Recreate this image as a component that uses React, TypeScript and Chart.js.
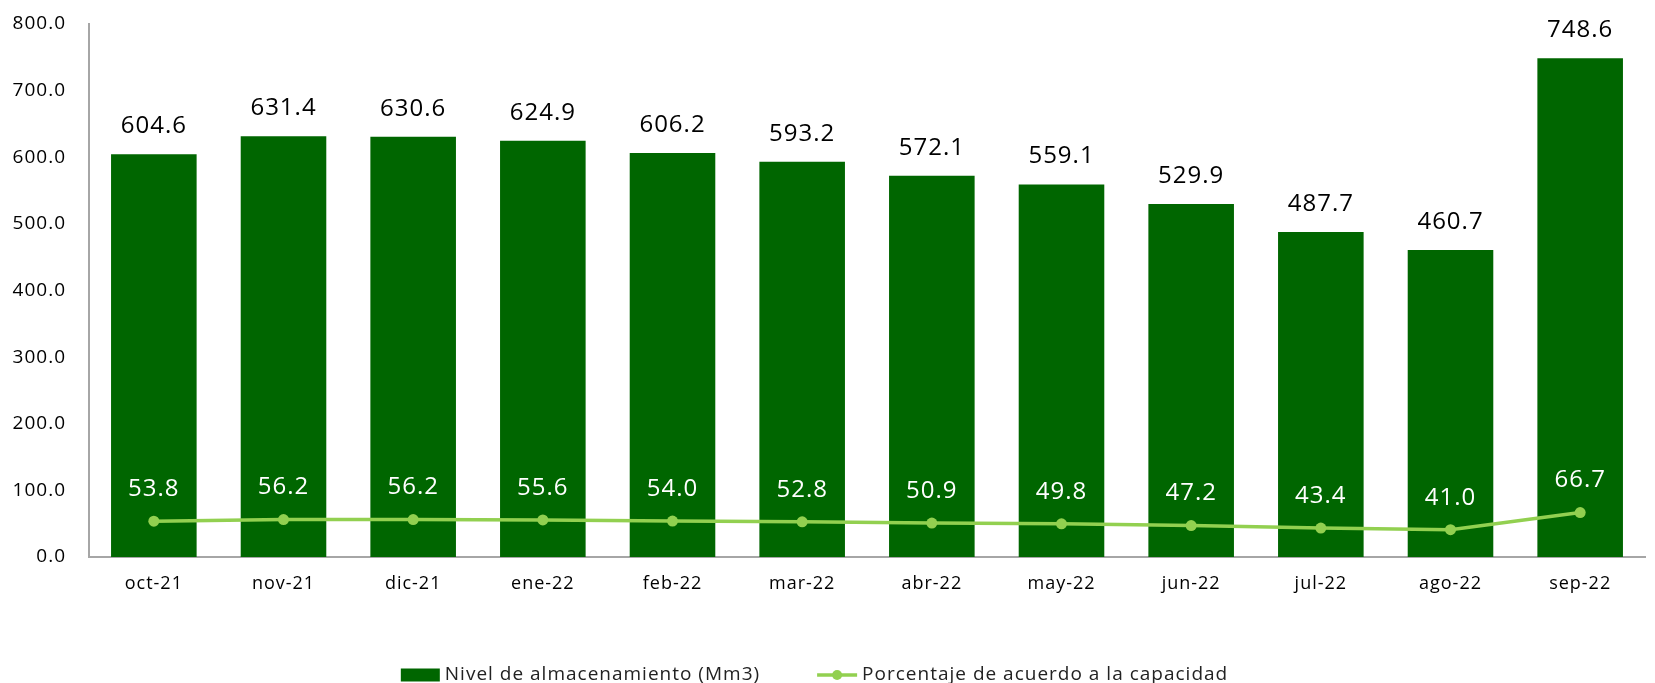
import React, { useEffect, useRef } from "react";
import { Chart, registerables } from "chart.js";

Chart.register(...registerables);

const categories = ["oct-21", "nov-21", "dic-21", "ene-22", "feb-22", "mar-22", "abr-22", "may-22", "jun-22", "jul-22", "ago-22", "sep-22"];
const nivel = [604.6, 631.4, 630.6, 624.9, 606.2, 593.2, 572.1, 559.1, 529.9, 487.7, 460.7, 748.6];
const porcentaje = [53.8, 56.2, 56.2, 55.6, 54.0, 52.8, 50.9, 49.8, 47.2, 43.4, 41.0, 66.7];
const seriesNames = ["Nivel de almacenamiento (Mm3)", "Porcentaje de acuerdo a la capacidad"];

const FONT = "'Open Sans', sans-serif";
const BAR_COLOR = "#006600";
const LINE_COLOR = "#92D050";

const spacingPlugin = {
  id: "spacing",
  beforeLayout(chart: any) { chart.ctx.letterSpacing = "1px"; },
  beforeDraw(chart: any) { chart.ctx.letterSpacing = "1px"; },
};

const labelPlugin = {
  id: "valueLabels",
  afterDatasetsDraw(chart: any) {
    const ctx = chart.ctx;
    ctx.save();
    ctx.letterSpacing = "1px";
    ctx.font = `24px ${FONT}`;
    ctx.textAlign = "center";
    ctx.textBaseline = "middle";
    chart.data.datasets.forEach((ds: any, di: number) => {
      const meta = chart.getDatasetMeta(di);
      meta.data.forEach((el: any, i: number) => {
        const v = ds.data[i];
        if (di === 0) {
          ctx.fillStyle = "#000000";
          ctx.fillText(v.toFixed(1), el.x, el.y - 28);
        } else {
          ctx.fillStyle = "#ffffff";
          ctx.fillText(v.toFixed(1), el.x, el.y - 32);
        }
      });
    });
    ctx.restore();
  },
};

const legendPlugin = {
  id: "customLegend",
  afterDraw(chart: any) {
    const ctx = chart.ctx;
    ctx.save();
    ctx.letterSpacing = "1px";
    ctx.font = `19px ${FONT}`;
    ctx.textBaseline = "middle";
    ctx.textAlign = "left";
    const boxW = 39;
    const gapText = 5;
    const gapItems = 57;
    const w0 = ctx.measureText(seriesNames[0]).width;
    const w1 = ctx.measureText(seriesNames[1]).width;
    const total = boxW + gapText + w0 + gapItems + 40 + gapText + w1;
    const cy = 675;
    let x = chart.width / 2 - 13 - total / 2;
    ctx.fillStyle = BAR_COLOR;
    ctx.fillRect(x, cy - 6.5, boxW, 13);
    x += boxW + gapText;
    ctx.fillStyle = "#222";
    ctx.fillText(seriesNames[0], x, cy);
    x += w0 + gapItems;
    ctx.strokeStyle = LINE_COLOR;
    ctx.lineWidth = 3.5;
    ctx.beginPath();
    ctx.moveTo(x, cy);
    ctx.lineTo(x + 40, cy);
    ctx.stroke();
    ctx.fillStyle = LINE_COLOR;
    ctx.beginPath();
    ctx.arc(x + 20, cy, 5, 0, Math.PI * 2);
    ctx.fill();
    x += 40 + gapText;
    ctx.fillStyle = "#222";
    ctx.fillText(seriesNames[1], x, cy);
    ctx.restore();
  },
};

export default function App() {
  const ref = useRef<HTMLCanvasElement>(null);
  useEffect(() => {
    if (!ref.current) return;
    const chart = new Chart(ref.current, {
      type: "bar",
      data: {
        labels: categories,
        datasets: [
          {
            type: "bar",
            label: seriesNames[0],
            data: nivel,
            backgroundColor: BAR_COLOR,
            barPercentage: 0.66,
            categoryPercentage: 1,
            order: 2,
          },
          {
            type: "line",
            label: seriesNames[1],
            data: porcentaje,
            borderColor: LINE_COLOR,
            backgroundColor: LINE_COLOR,
            borderWidth: 3.5,
            pointRadius: 5.5,
            pointBackgroundColor: LINE_COLOR,
            pointBorderWidth: 0,
            order: 1,
          },
        ] as any,
      },
      options: {
        animation: false,
        responsive: false,
        maintainAspectRatio: false,
        layout: { padding: { left: 0, right: 10, top: 24, bottom: 0 } },
        plugins: {
          legend: { display: false },
          tooltip: { enabled: false },
        },
        scales: {
          x: {
            grid: { display: false, drawTicks: false },
            border: { color: "#a6a6a6", width: 2 },
            ticks: { font: { family: FONT, size: 18 }, color: "#000", padding: 16 },
            afterFit: (s: any) => { s.height = 126; },
          },
          y: {
            min: 0,
            max: 800,
            grid: { display: false, drawTicks: false },
            border: { color: "#a6a6a6", width: 2 },
            ticks: {
              stepSize: 100,
              font: { family: FONT, size: 19 },
              color: "#000",
              padding: 23,
              callback: (v: any) => Number(v).toFixed(1),
            },
            afterFit: (s: any) => { s.width = 89; s.paddingTop = 0; s.paddingBottom = 0; },
          },
        },
      },
      plugins: [spacingPlugin, labelPlugin, legendPlugin],
    });
    return () => chart.destroy();
  }, []);
  return (
    <div style={{ position: "fixed", left: 0, top: 0, width: 1655, height: 683, background: "#fff" }}>
      <canvas ref={ref} width={1655} height={683} style={{ width: 1655, height: 683 }} />
    </div>
  );
}
